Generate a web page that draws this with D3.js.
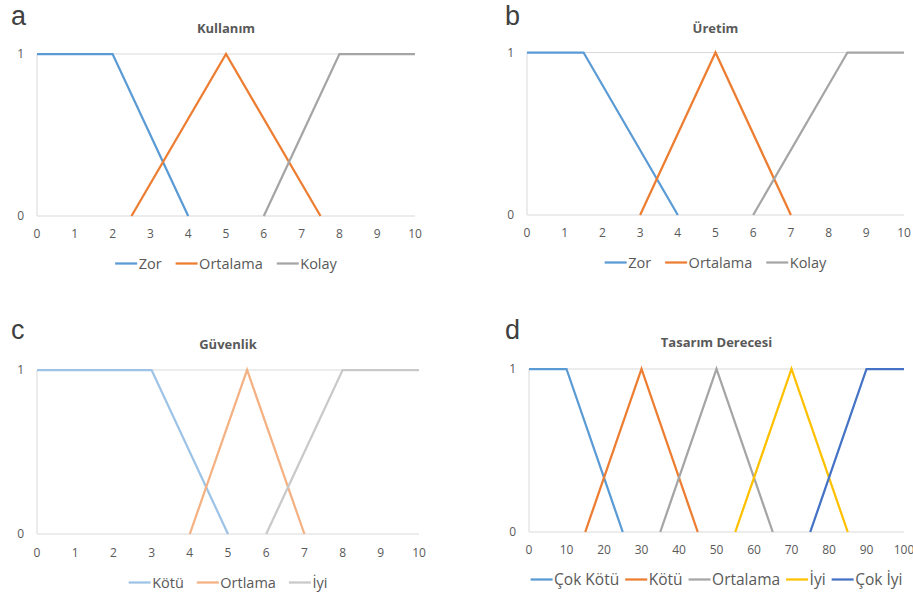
<!DOCTYPE html>
<html>
<head>
<meta charset="utf-8">
<script src="https://cdn.jsdelivr.net/npm/d3@7"></script>
<style>
  body { margin: 0; background: #fff; }
  svg { display: block; font-family: "Open Sans", "Noto Sans", sans-serif; }
</style>
</head>
<body>
<svg id="chart" width="913" height="596"></svg>
<script>
// Membership functions: breakpoints as [x, degree]
const ticks10 = [0, 1, 2, 3, 4, 5, 6, 7, 8, 9, 10];
const ticks100 = [0, 10, 20, 30, 40, 50, 60, 70, 80, 90, 100];
const yTicks = [0, 1];

// a) Kullanım
const kullanimNames = ["Zor", "Ortalama", "Kolay"];
const kullanimZor = [[0, 1], [2, 1], [4, 0]];
const kullanimOrtalama = [[2.5, 0], [5, 1], [7.5, 0]];
const kullanimKolay = [[6, 0], [8, 1], [10, 1]];

// b) Üretim
const uretimNames = ["Zor", "Ortalama", "Kolay"];
const uretimZor = [[0, 1], [1.5, 1], [4, 0]];
const uretimOrtalama = [[3, 0], [5, 1], [7, 0]];
const uretimKolay = [[6, 0], [8.5, 1], [10, 1]];

// c) Güvenlik
const guvenlikNames = ["Kötü", "Ortlama", "İyi"];
const guvenlikKotu = [[0, 1], [3, 1], [5, 0]];
const guvenlikOrtlama = [[4, 0], [5.5, 1], [7, 0]];
const guvenlikIyi = [[6, 0], [8, 1], [10, 1]];

// d) Tasarım Derecesi
const tasarimNames = ["Çok Kötü", "Kötü", "Ortalama", "İyi", "Çok İyi"];
const tasarimCokKotu = [[0, 1], [10, 1], [25, 0]];
const tasarimKotu = [[15, 0], [30, 1], [45, 0]];
const tasarimOrtalama = [[35, 0], [50, 1], [65, 0]];
const tasarimIyi = [[55, 0], [70, 1], [85, 0]];
const tasarimCokIyi = [[75, 0], [90, 1], [100, 1]];

const officeColors = ["#5b9bd5", "#ed7d31", "#a5a5a5", "#ffc000", "#4472c4"];
const paleColors = ["#9dc3e6", "#f4b183", "#c9c9c9"];

const panels = [
  { letter: "a", title: "Kullanım", names: kullanimNames,
    data: [kullanimZor, kullanimOrtalama, kullanimKolay], colors: officeColors,
    ticks: ticks10, domain: [0, 10], legendSize: 14.5, legendGap: 14,
    x0: 37, x1: 415, y1: 54, y0: 216, letterX: 11, letterY: 25, titleY: 33, tickY: 238, legendY: 269 },
  { letter: "b", title: "Üretim", names: uretimNames,
    data: [uretimZor, uretimOrtalama, uretimKolay], colors: officeColors,
    ticks: ticks10, domain: [0, 10], legendSize: 14.5, legendGap: 14,
    x0: 527, x1: 904, y1: 52.5, y0: 215, letterX: 505, letterY: 25, titleY: 33, tickY: 237, legendY: 268 },
  { letter: "c", title: "Güvenlik", names: guvenlikNames,
    data: [guvenlikKotu, guvenlikOrtlama, guvenlikIyi], colors: paleColors,
    ticks: ticks10, domain: [0, 10], legendSize: 14.5, legendGap: 13,
    x0: 37, x1: 419, y1: 370, y0: 534, letterX: 11, letterY: 339, titleY: 349, tickY: 557, legendY: 588 },
  { letter: "d", title: "Tasarım Derecesi", names: tasarimNames,
    data: [tasarimCokKotu, tasarimKotu, tasarimOrtalama, tasarimIyi, tasarimCokIyi], colors: officeColors,
    ticks: ticks100, domain: [0, 100], legendSize: 15.5, legendGap: 6,
    x0: 529, x1: 904, y1: 369, y0: 532, letterX: 505, letterY: 339, titleY: 347, tickY: 554, legendY: 585 }
];

const svg = d3.select("#chart");
const textColor = "#595959";
const gridColor = "#d9d9d9";

panels.forEach(p => {
  const g = svg.append("g");
  const x = d3.scaleLinear().domain(p.domain).range([p.x0, p.x1]);
  const y = d3.scaleLinear().domain([0, 1]).range([p.y0, p.y1]);

  // panel letter
  g.append("text").attr("x", p.letterX).attr("y", p.letterY)
    .attr("font-family", "'Liberation Sans', Arial, sans-serif")
    .attr("font-size", 27).attr("fill", "#404040").text(p.letter);

  // title
  g.append("text").attr("x", (p.x0 + p.x1) / 2).attr("y", p.titleY)
    .attr("text-anchor", "middle").attr("font-size", 13).attr("font-weight", "bold")
    .attr("fill", textColor).text(p.title);

  // horizontal gridlines at 0 and 1
  g.selectAll(".grid").data(yTicks).join("line")
    .attr("x1", p.x0).attr("x2", p.x1)
    .attr("y1", d => y(d)).attr("y2", d => y(d))
    .attr("stroke", gridColor).attr("stroke-width", 1);
  // left axis line
  g.append("line").attr("x1", p.x0).attr("x2", p.x0)
    .attr("y1", y(0)).attr("y2", y(1))
    .attr("stroke", gridColor).attr("stroke-width", 1);

  // y tick labels
  g.selectAll(".ylab").data(yTicks).join("text")
    .attr("x", p.x0 - 13).attr("y", d => y(d)).attr("dy", "0.35em")
    .attr("text-anchor", "end").attr("font-size", 12).attr("fill", textColor)
    .text(d => d);

  // x tick labels
  g.selectAll(".xlab").data(p.ticks).join("text")
    .attr("x", d => x(d)).attr("y", p.tickY)
    .attr("text-anchor", "middle").attr("font-size", 12).attr("fill", textColor)
    .text(d => d);

  // membership lines
  const line = d3.line().x(d => x(d[0])).y(d => y(d[1]));
  p.data.forEach((pts, i) => {
    g.append("path").attr("d", line(pts)).attr("fill", "none")
      .attr("stroke", p.colors[i]).attr("stroke-width", 2.25)
      .attr("stroke-linejoin", "miter");
  });

  // legend, centred under the plot
  const lg = g.append("g");
  const swatch = 22, gapText = 1.5;
  let cx = 0;
  p.names.forEach((name, i) => {
    lg.append("line").attr("x1", cx).attr("x2", cx + swatch)
      .attr("y1", p.legendY - 5.5).attr("y2", p.legendY - 5.5)
      .attr("stroke", p.colors[i]).attr("stroke-width", 2.25);
    const t = lg.append("text").attr("x", cx + swatch + gapText).attr("y", p.legendY)
      .attr("font-size", p.legendSize).attr("fill", textColor).text(name);
    cx += swatch + gapText + t.node().getComputedTextLength() + p.legendGap;
  });
  const total = cx - p.legendGap;
  lg.attr("transform", `translate(${(p.x0 + p.x1) / 2 - total / 2},0)`);
});
</script>
</body>
</html>
